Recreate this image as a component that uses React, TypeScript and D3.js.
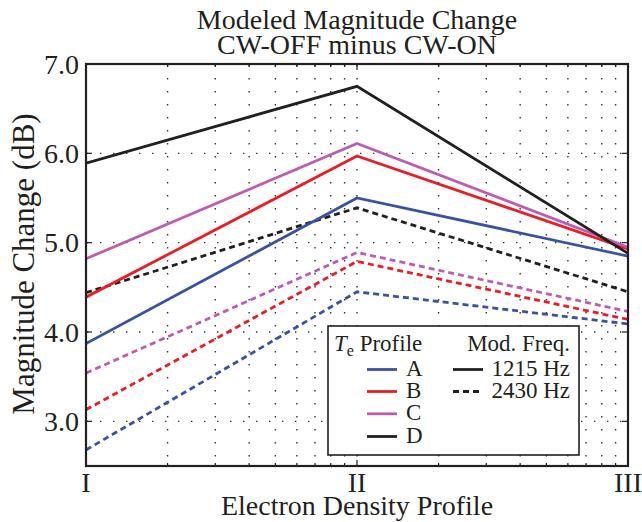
import React from "react";
import * as d3 from "d3";

const densityValues = [1, 10, 100];
const densityLabels = ["I", "II", "III"];
const profiles = ["A", "B", "C", "D"];
const profileColors = ["#3953a4", "#ed1c24", "#bf5bb0", "#231f20"];
const solid1215 = [
  [3.87, 5.5, 4.85],
  [4.39, 5.97, 4.93],
  [4.82, 6.11, 4.95],
  [5.89, 6.75, 4.88],
];
const dashed2430 = [
  [2.68, 4.45, 4.09],
  [3.13, 4.79, 4.14],
  [3.54, 4.89, 4.23],
  [4.44, 5.39, 4.45],
];
const yTicks = [3, 4, 5, 6, 7];

const W = 642;
const H = 522;
const left = 86, right = 628, top = 64, bottom = 466;
const font = "'Liberation Serif', 'Times New Roman', serif";
const ink = "#231f20";

export default function App() {
  const x = d3.scaleLog().domain([1, 100]).range([left, right]);
  const y = d3.scaleLinear().domain([2.5, 7]).range([bottom, top]);
  const minor: number[] = [];
  for (const dec of [1, 10]) for (let k = 2; k <= 9; k++) minor.push(k * dec);
  const line = d3
    .line<number>()
    .x((_, i) => x(densityValues[i]))
    .y((d) => y(d));

  const rowY = [369.5, 391.5, 413.8, 436.5];

  return (
    <svg width={W} height={H} style={{ position: "absolute", left: 0, top: 0, background: "#fff" }}>
      <defs>
        <clipPath id="plot">
          <rect x={left} y={top} width={right - left} height={bottom - top} />
        </clipPath>
      </defs>
      <rect x={0} y={0} width={W} height={H} fill="#fff" />
      {/* grid */}
      <g stroke="#333" strokeWidth={1.4} strokeDasharray="1.4,11.6" fill="none">
        {[...minor, 10].map((v) => (
          <line key={"gx" + v} x1={x(v)} x2={x(v)} y1={top + 1} y2={bottom} />
        ))}
        {yTicks.slice(0, 4).map((v) => (
          <line key={"gy" + v} x1={left + 1} x2={right} y1={y(v)} y2={y(v)} />
        ))}
      </g>
      {/* ticks */}
      <g stroke={ink} strokeWidth={1.2}>
        {minor.map((v) => (
          <g key={"t" + v}>
            <line x1={x(v)} x2={x(v)} y1={bottom} y2={bottom - 3} />
            <line x1={x(v)} x2={x(v)} y1={top} y2={top + 3} />
          </g>
        ))}
        <line x1={x(10)} x2={x(10)} y1={bottom} y2={bottom - 6} />
        <line x1={x(10)} x2={x(10)} y1={top} y2={top + 6} />
        {yTicks.map((v) => (
          <g key={"yt" + v}>
            <line x1={left} x2={left + 6} y1={y(v)} y2={y(v)} />
            <line x1={right} x2={right - 6} y1={y(v)} y2={y(v)} />
          </g>
        ))}
      </g>
      {/* data */}
      <g clipPath="url(#plot)" fill="none" strokeWidth={2.8}>
        {dashed2430.map((s, i) => (
          <path key={"d" + i} d={line(s) || ""} stroke={profileColors[i]} strokeDasharray="6,4" />
        ))}
        {solid1215.map((s, i) => (
          <path key={"s" + i} d={line(s) || ""} stroke={profileColors[i]} />
        ))}
      </g>
      {/* frame */}
      <rect x={left} y={top} width={right - left} height={bottom - top} fill="none" stroke={ink} strokeWidth={2.2} />
      {/* tick labels */}
      <g fontFamily={font} fill={ink} fontSize={28}>
        {yTicks.map((v) => (
          <text key={"yl" + v} x={left - 7} y={y(v) + 9.5} textAnchor="end">
            {v.toFixed(1)}
          </text>
        ))}
        {densityValues.map((v, i) => (
          <text key={"xl" + v} x={x(v)} y={492} textAnchor="middle">
            {densityLabels[i]}
          </text>
        ))}
      </g>
      {/* axis titles */}
      <g fontFamily={font} fill={ink} fontSize={28}>
        <text x={(left + right) / 2} y={515} textAnchor="middle">Electron Density Profile</text>
        <text transform={`translate(34,264) rotate(-90)`} textAnchor="middle" fontSize={31}>
          Magnitude Change (dB)
        </text>
        <text x={(left + right) / 2} y={29} textAnchor="middle">Modeled Magnitude Change</text>
        <text x={(left + right) / 2} y={53.5} textAnchor="middle">CW-OFF minus CW-ON</text>
      </g>
      {/* legend */}
      <g fontFamily={font} fill={ink} fontSize={23}>
        <rect x={328} y={326} width={251} height={129} fill="#fff" stroke={ink} strokeWidth={1.6} />
        <text x={334} y={351}>
          <tspan fontStyle="italic">T</tspan>
          <tspan fontSize={16} dy={5}>e</tspan>
          <tspan dy={-5}> Profile</tspan>
        </text>
        <text x={570} y={351} textAnchor="end">Mod. Freq.</text>
        {profiles.map((p, i) => (
          <g key={"lg" + p}>
            <line x1={367} x2={397} y1={rowY[i]} y2={rowY[i]} stroke={profileColors[i]} strokeWidth={2.8} />
            <text x={406} y={rowY[i] + 6} >{p}</text>
          </g>
        ))}
        <line x1={453} x2={483} y1={rowY[0]} y2={rowY[0]} stroke={ink} strokeWidth={2.8} />
        <text x={570} y={rowY[0] + 6} textAnchor="end">1215 Hz</text>
        <line x1={453} x2={483} y1={rowY[1]} y2={rowY[1]} stroke={ink} strokeWidth={2.8} strokeDasharray="6,4" />
        <text x={570} y={rowY[1] + 6} textAnchor="end">2430 Hz</text>
      </g>
    </svg>
  );
}
